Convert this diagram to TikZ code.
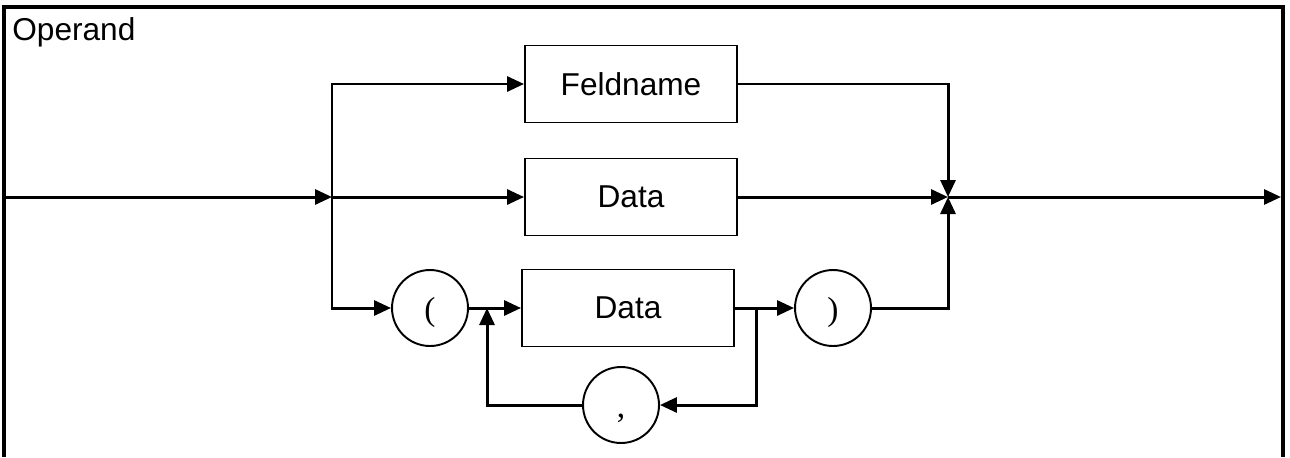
\documentclass[tikz,border=0pt]{standalone}
\usepackage{fontspec}
\setmainfont{Liberation Sans}
\newfontfamily\parenfont{Liberation Serif}
\usetikzlibrary{arrows.meta,positioning,calc}

\begin{document}
\begin{tikzpicture}[x=0.02cm,y=-0.02cm,
  box/.style={rectangle,draw,line width=1.1pt,minimum width=4.24cm,minimum height=1.54cm,font=\fontsize{18}{20}\selectfont},
  term/.style={circle,draw,line width=1.1pt,minimum size=1.52cm,inner sep=0pt,text height=15pt,text depth=0.4pt,font=\parenfont\fontsize{19}{21}\selectfont},
  flow/.style={line width=1.7pt,-{Triangle[length=0.34cm,width=0.3cm]}}]
\useasboundingbox (0,0) rectangle (1290,457);

% frame of the rule
\draw[line width=2pt] (4,457) -- (4,7) -- (1283,7) -- (1283,457);
\node[anchor=base west,inner sep=0pt,font=\fontsize{18}{20}\selectfont, name=title] at (12,40) {Operand};

% boxes
\node[box,name=feld] at (631,84) {Feldname};
\node[box,name=data] at (631,197) {Data};
\node[box,name=datalist] at (628,308) {Data};

% terminal symbols
\node[term,name=open] at (430,308) {(};
\node[term,name=close] at (833,308) {)};
\node[term,name=comma] at (621,405) {,};

% points where the lines split and join
\coordinate (in) at (4,197);
\coordinate (split) at (332,197);
\coordinate (merge) at (948,197);
\coordinate (back) at (487,308);
\coordinate (loop) at (756,308);
\coordinate (out) at (1281,197);

% arrows
\draw[flow] (in) -- (split);
\draw[flow] (split) |- (feld.west);
\draw[flow] (split) -- (data.west);
\draw[flow] (split) |- (open.west);
\draw[flow] (open) -- (datalist);
\draw[flow] (datalist) -- (close);

% repeat loop with comma
\draw[flow] (loop) |- (comma);
\draw[flow] (comma) -| (back);

% join and exit
\draw[flow] (feld) -| (merge);
\draw[flow] (data) -- (merge);
\draw[flow] (close) -| (merge);
\draw[flow] (merge) -- (out);
\end{tikzpicture}
\end{document}
